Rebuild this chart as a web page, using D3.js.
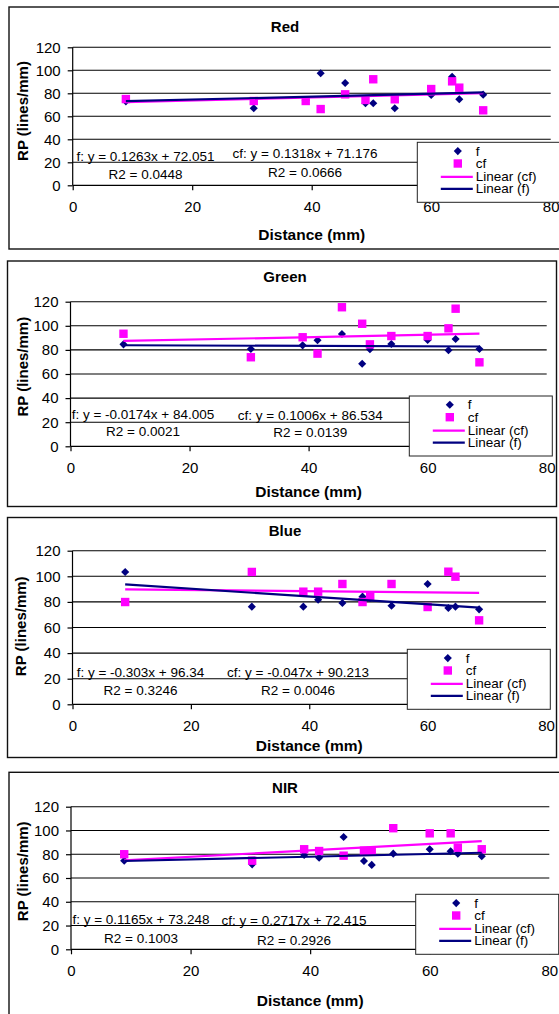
<!DOCTYPE html>
<html><head><meta charset="utf-8">
<script src="https://cdn.jsdelivr.net/npm/d3@7"></script>
<style>
body{margin:0;background:#fff;}
svg{display:block;font-family:"Liberation Sans",Arial,Helvetica,sans-serif;}
</style></head>
<body><svg id="c" width="559" height="1014"></svg>
<script>
// ---- data ----
const distance = [8.9, 30.3, 39, 41.5, 45.6, 49, 50.3, 53.9, 60, 63.5, 64.7, 68.7];
const redF    = [73, 67, 74, 97.4, 89, 71.3, 71.3, 67, 78.5, 94.4, 74.8, 78.8];
const redCF   = [75, 73.3, 73.3, 66.3, 79.1, 74.2, 92.2, 74.8, 83.7, 90.4, 84.9, 65.2];
const greenF  = [84.6, 80.7, 83.8, 88, 93.2, 68.5, 80.5, 84.9, 88.2, 79.7, 89, 80.7];
const greenCF = [93.4, 73.9, 90.5, 76.9, 115.4, 101.7, 84.6, 91.5, 91.5, 97.9, 114.2, 69.7];
const blueF   = [103.4, 76.3, 76.3, 81.7, 79.1, 84.1, 83, 77, 94, 75.2, 76.3, 74.2];
const blueCF  = [79.9, 103.4, 88, 88, 94, 79.9, 84.8, 94, 76, 103.6, 99.7, 65.6];
const nirF    = [74.6, 71.5, 79.4, 77.1, 94.5, 74.3, 71, 80.5, 84.2, 82.5, 80.5, 78.3];
const nirCF   = [80, 74.6, 84.2, 82.7, 78.8, 83, 83, 101.9, 97.6, 97.6, 85.5, 84.2];
const titles  = ["Red", "Green", "Blue", "NIR"];
// trend line coefficients [slope, intercept]
const fFits   = [[0.1263, 72.051], [-0.0174, 84.005], [-0.303, 96.34], [0.1165, 73.248]];
const cfFits  = [[0.1318, 71.176], [0.1006, 86.534], [-0.047, 90.213], [0.2717, 72.415]];
const fEqText  = ["f: y = 0.1263x + 72.051", "f: y = -0.0174x + 84.005", "f: y = -0.303x + 96.34", "f: y = 0.1165x + 73.248"];
const fR2Text  = ["R2 = 0.0448", "R2 = 0.0021", "R2 = 0.3246", "R2 = 0.1003"];
const cfEqText = ["cf: y = 0.1318x + 71.176", "cf: y = 0.1006x + 86.534", "cf: y = -0.047x + 90.213", "cf: y = 0.2717x + 72.415"];
const cfR2Text = ["R2 = 0.0666", "R2 = 0.0139", "R2 = 0.0046", "R2 = 0.2926"];
const xTicks = [0, 20, 40, 60, 80];
const yTicks = [0, 20, 40, 60, 80, 100, 120];
const legendLabels = ["f", "cf", "Linear (cf)", "Linear (f)"];
const seriesF = [redF, greenF, blueF, nirF];
const seriesCF = [redCF, greenCF, blueCF, nirCF];

// ---- layout (pixels) ----
const layout = [
  {box:[9,7,560,242], px:[72.7,550.7], py:[185.3,47.3], titleY:26.7, xTitleY:234, yTitle:[22,111], leg:[417.3,142.3],
   fEq:[145.5,156,174], cfEq:[305,153.3,172.7]},
  {box:[7.5,261,549,245.5], px:[70.5,546.7], py:[446.3,301.7], titleY:276.3, xTitleY:491, yTitle:[22.3,366.7], leg:[409.3,396],
   fEq:[143,414.3,431.7], cfEq:[310.3,415,432.3]},
  {box:[7.5,517.5,549,240], px:[72.5,546], py:[704.3,550.7], titleY:530.7, xTitleY:745.7, yTitle:[20.5,626.3], leg:[407.3,649.3],
   fEq:[140.5,672.7,690.3], cfEq:[298,672.7,690]},
  {box:[9,772.3,560,260], px:[71,549.3], py:[949.3,806.7], titleY:787.3, xTitleY:1000, yTitle:[22,871.3], leg:[415.7,894.3],
   fEq:[141,919,938], cfEq:[294,920.7,940]}
];
const navy = "#000080", magenta = "#FF00FF";
const svg = d3.select("#c");

layout.forEach((L, i) => {
  const g = svg.append("g");
  const x = d3.scaleLinear().domain([0, 80]).range(L.px);
  const y = d3.scaleLinear().domain([0, 120]).range(L.py);

  g.append("rect").attr("x", L.box[0]).attr("y", L.box[1]).attr("width", L.box[2]).attr("height", L.box[3])
    .attr("fill", "#fff").attr("stroke", "#111").attr("stroke-width", 1.4);

  // gridlines
  g.selectAll(".grid").data(yTicks.filter(d => d > 0)).join("line")
    .attr("x1", L.px[0]).attr("x2", L.px[1]).attr("y1", d => y(d)).attr("y2", d => y(d))
    .attr("stroke", "#000").attr("stroke-width", 1.1);

  // axes
  const yAxis = g.append("g").attr("transform", `translate(${L.px[0]},0)`)
    .call(d3.axisLeft(y).tickValues(yTicks).tickSize(5).tickPadding(7).tickFormat(d3.format("d")));
  const xAxis = g.append("g").attr("transform", `translate(0,${L.py[0]})`)
    .call(d3.axisBottom(x).tickValues(xTicks).tickSize(5).tickPadding(11).tickFormat(d3.format("d")));
  [yAxis, xAxis].forEach(a => {
    a.select(".domain").attr("stroke", "#000").attr("stroke-width", 1.2);
    a.selectAll(".tick line").attr("stroke", "#000").attr("stroke-width", 1.2);
    a.selectAll("text").attr("font-size", 15).attr("fill", "#000").attr("font-family", "Liberation Sans, Arial, sans-serif");
  });
  yAxis.select(".domain").attr("d", `M0,${L.py[0]}V${L.py[1]}`);
  xAxis.select(".domain").attr("d", `M${L.px[0]},0H${L.px[1]}`);

  // equation labels
  const eq = g.append("g").attr("font-size", 13.5).attr("fill", "#000").attr("text-anchor", "middle").attr("dominant-baseline", "central");
  eq.append("text").attr("x", L.fEq[0]).attr("y", L.fEq[1]).text(fEqText[i]);
  eq.append("text").attr("x", L.fEq[0]).attr("y", L.fEq[2]).text(fR2Text[i]);
  eq.append("text").attr("x", L.cfEq[0]).attr("y", L.cfEq[1]).text(cfEqText[i]);
  eq.append("text").attr("x", L.cfEq[0]).attr("y", L.cfEq[2]).text(cfR2Text[i]);

  // points
  const fPts = distance.map((d, k) => [d, seriesF[i][k]]);
  const cfPts = distance.map((d, k) => [d, seriesCF[i][k]]);
  const diamond = d3.symbol().type(d3.symbolDiamond2).size(42);
  g.selectAll(".f").data(fPts).join("path")
    .attr("d", diamond).attr("transform", d => `translate(${x(d[0])},${y(d[1])})`).attr("fill", navy);
  g.selectAll(".cf").data(cfPts).join("rect")
    .attr("x", d => x(d[0]) - 4.2).attr("y", d => y(d[1]) - 4.2).attr("width", 8.4).attr("height", 8.4).attr("fill", magenta);

  // trend lines
  const xr = d3.extent(distance);
  [[cfFits[i], magenta], [fFits[i], navy]].forEach(([fit, col]) => {
    g.append("line").attr("x1", x(xr[0])).attr("x2", x(xr[1]))
      .attr("y1", y(fit[0] * xr[0] + fit[1])).attr("y2", y(fit[0] * xr[1] + fit[1]))
      .attr("stroke", col).attr("stroke-width", 2.2);
  });

  // titles
  g.append("text").attr("x", 285).attr("y", L.titleY).attr("text-anchor", "middle").attr("dominant-baseline", "central")
    .attr("font-size", 15).attr("font-weight", "bold").text(titles[i]);
  g.append("text").attr("x", (L.px[0] + L.px[1]) / 2).attr("y", L.xTitleY).attr("text-anchor", "middle").attr("dominant-baseline", "central")
    .attr("font-size", 15.5).attr("font-weight", "bold").text("Distance (mm)");
  g.append("text").attr("transform", `translate(${L.yTitle[0]},${L.yTitle[1]}) rotate(-90)`).attr("text-anchor", "middle").attr("dominant-baseline", "central")
    .attr("font-size", 15).attr("font-weight", "bold").text("RP (lines/mm)");

  // legend
  const lg = g.append("g").attr("transform", `translate(${L.leg[0]},${L.leg[1]})`);
  lg.append("rect").attr("width", 143).attr("height", 60).attr("fill", "#fff").attr("stroke", "#222").attr("stroke-width", 1);
  const rowY = [8.8, 21.2, 34.6, 46.6];
  lg.append("path").attr("d", diamond).attr("transform", `translate(40.5,${rowY[0]})`).attr("fill", navy);
  lg.append("rect").attr("x", 36.3).attr("y", rowY[1] - 4.2).attr("width", 8.4).attr("height", 8.4).attr("fill", magenta);
  lg.append("line").attr("x1", 23.5).attr("x2", 55.5).attr("y1", rowY[2]).attr("y2", rowY[2]).attr("stroke", magenta).attr("stroke-width", 2.2);
  lg.append("line").attr("x1", 23.5).attr("x2", 55.5).attr("y1", rowY[3]).attr("y2", rowY[3]).attr("stroke", navy).attr("stroke-width", 2.2);
  lg.selectAll(".lt").data(legendLabels).join("text")
    .attr("x", 58.5).attr("y", (d, k) => rowY[k]).attr("dominant-baseline", "central").attr("font-size", 13.5).text(d => d);
});
</script></body></html>
